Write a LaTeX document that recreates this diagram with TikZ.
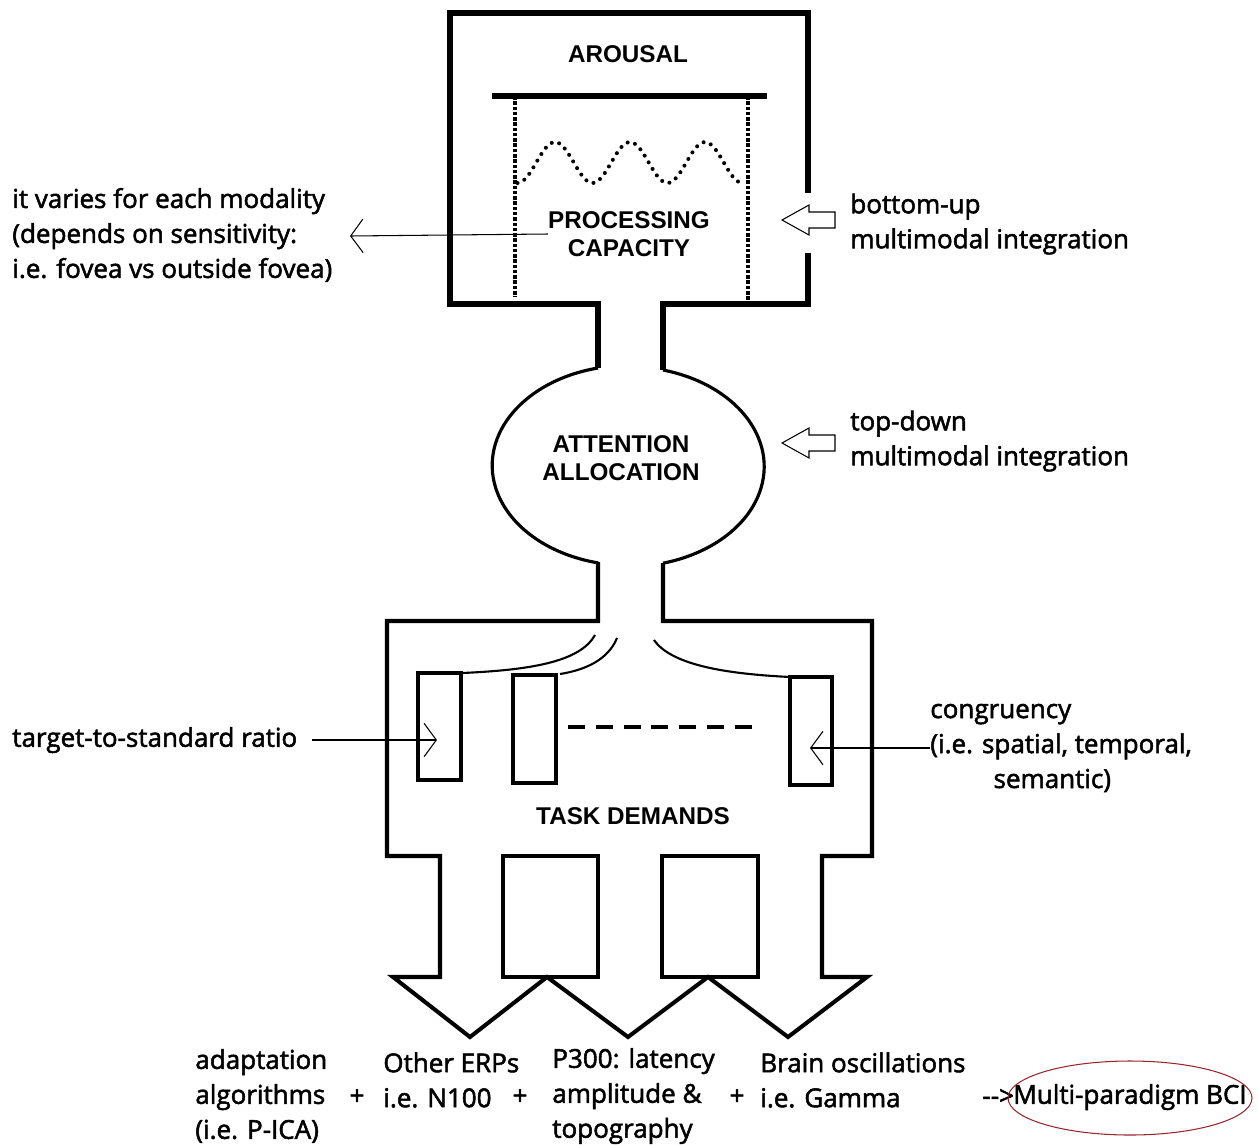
\documentclass[tikz,border=0pt]{standalone}
\usepackage{fontspec}
\usetikzlibrary{arrows.meta}
\newfontfamily\capsfont{Liberation Sans}
\newfontfamily\notefont{Open Sans}[FakeBold=2]
\definecolor{bcired}{RGB}{150,40,45}
\tikzset{ caps/.style = { align = center % block title
        , inner sep = 0pt
        , font = \capsfont\bfseries\fontsize{13.8}{16}\selectfont
        }
        , note/.style = { align = left % side remark
        , inner sep = 0pt
        , font = \notefont\fontsize{14.8}{19.9}\selectfont
        }
        , pointer/.style = { line width = 0.6pt % thin label arrow
        , -{Straight Barb[length=7pt,width=19pt]}
        }
        }

\begin{document}
\begin{tikzpicture}[x=0.02cm, y=0.02cm,
        wall/.style={line width=3.2pt},
        taskwall/.style={line width=2.3pt},
        slot/.style={draw, line width=2.6pt},
        funnel/.style={line width=1.2pt},
        hollow/.pic={\draw[line width=0.6pt] (0,0) -- (27,15) -- (27,8) -- (53,8) -- (53,-8) -- (27,-8) -- (27,-15) -- cycle;}]
        \useasboundingbox (0,0) rectangle (1258,-1144);

        % arousal box
        \draw[wall] (598,-368) -- (598,-304) -- (450,-304) -- (450,-13) -- (808,-13) -- (808,-193);
        \draw[wall] (808,-253) -- (808,-304) -- (663,-304) -- (663,-370);
        \draw[wall] (492,-96) -- (767,-96);
        \draw[line width=2.6pt, dash pattern=on 2pt off 1pt] (515,-96) -- (515,-297) (748,-96) -- (748,-302);
        \draw[line width=2.3pt, line cap=round, dash pattern=on 0pt off 4.4pt] plot[domain=517.5:742.5, samples=90, smooth] (\x, {-162.5-20.5*cos(4.8*(\x-517.5))});
        \node[caps] (arousal) at (628,-54) {AROUSAL};
        \node[caps] (capacity) at (629,-234) {PROCESSING\\CAPACITY};

        % attention bulb
        \draw[line width=1.8pt] (598,-368) arc[start angle=103, end angle=257, x radius=136.5, y radius=100];
        \draw[line width=1.8pt] (663,-370) arc[start angle=75, end angle=-75, x radius=136.5, y radius=100];
        \node[caps] (attention) at (621,-458) {ATTENTION\\ALLOCATION};

        % task demands box with three arrows
        \draw[taskwall] (598,-562) -- (598,-621) -- (387,-621) -- (387,-856) -- (440,-856) -- (440,-977) -- (393,-977) -- (470,-1037) -- (547,-977) -- (628,-1037) -- (708,-977) -- (788,-1037) -- (867,-977) -- (822,-977) -- (822,-856) -- (872,-856) -- (872,-621) -- (663,-621) -- (663,-563);
        \draw[taskwall] (503,-856) rectangle (598,-977) (662,-856) rectangle (758,-977);
        \draw[funnel] (595,-635) .. controls (580,-662) and (530,-670) .. (462,-673);
        \draw[funnel] (617,-638) .. controls (608,-660) and (585,-670) .. (560,-674);
        \draw[funnel] (654,-640) .. controls (672,-666) and (730,-674) .. (790,-677);
        \draw[slot, line width=2.3pt] (418,-673) rectangle (461,-780);
        \draw[slot] (513,-675) rectangle (556,-783);
        \draw[slot] (790,-677) rectangle (832,-785);
        \draw[line width=2.5pt, dash pattern=on 9.7pt off 6.1pt] (568,-727) -- (752,-727);
        \node[caps] (task) at (633,-816) {TASK DEMANDS};

        % side remarks
        \node[note, anchor=west] (varies) at (12,-235) {it varies for each modality\\(depends on sensitivity:\\i.e. fovea vs outside fovea)};
        \coordinate (variestip) at (350,-236);
        \draw[pointer] (capacity.west) -- (variestip);
        \pic at (782,-220) {hollow};
        \node[note, anchor=west] (bottomup) at (850,-224) {bottom-up\\multimodal integration};
        \pic at (782,-443) {hollow};
        \node[note, anchor=west] (topdown) at (850,-441) {top-down\\multimodal integration};
        \node[note, anchor=west] (ratio) at (12,-740) {target-to-standard ratio};
        \coordinate (ratiotip) at (437,-740);
        \draw[pointer, shorten <=8pt] (ratio.east) -- (ratiotip);
        \node[note, anchor=west] (congruency) at (930,-748) {congruency\\(i.e. spatial, temporal,\\\hspace*{36pt}semantic)};
        \coordinate (congtip) at (810,-748);
        \draw[pointer] (congruency.west) -- (congtip);

        % outputs
        \node[note, anchor=west] (adapt) at (195,-1096) {adaptation\\algorithms\\(i.e. P-ICA)};
        \node[note] (plusa) at (357,-1097) {+};
        \node[note, anchor=west] (erp) at (383,-1080) {Other ERPs\\i.e. N100};
        \node[note] (plusb) at (520,-1097) {+};
        \node[note, anchor=west] (p300) at (552,-1096) {P300: latency\\amplitude \&\\topography};
        \node[note] (plusc) at (737,-1097) {+};
        \node[note, anchor=west] (brain) at (760,-1080) {Brain oscillations\\i.e. Gamma};
        \node[note, anchor=west] (then) at (982,-1097) {-{}-{}>};
        \node[note, anchor=west] (bci) at (1013,-1097) {Multi-paradigm BCI};
        \draw[bcired, line width=0.6pt] (1130,-1098) ellipse [x radius=122, y radius=37];
\end{tikzpicture}
\end{document}
